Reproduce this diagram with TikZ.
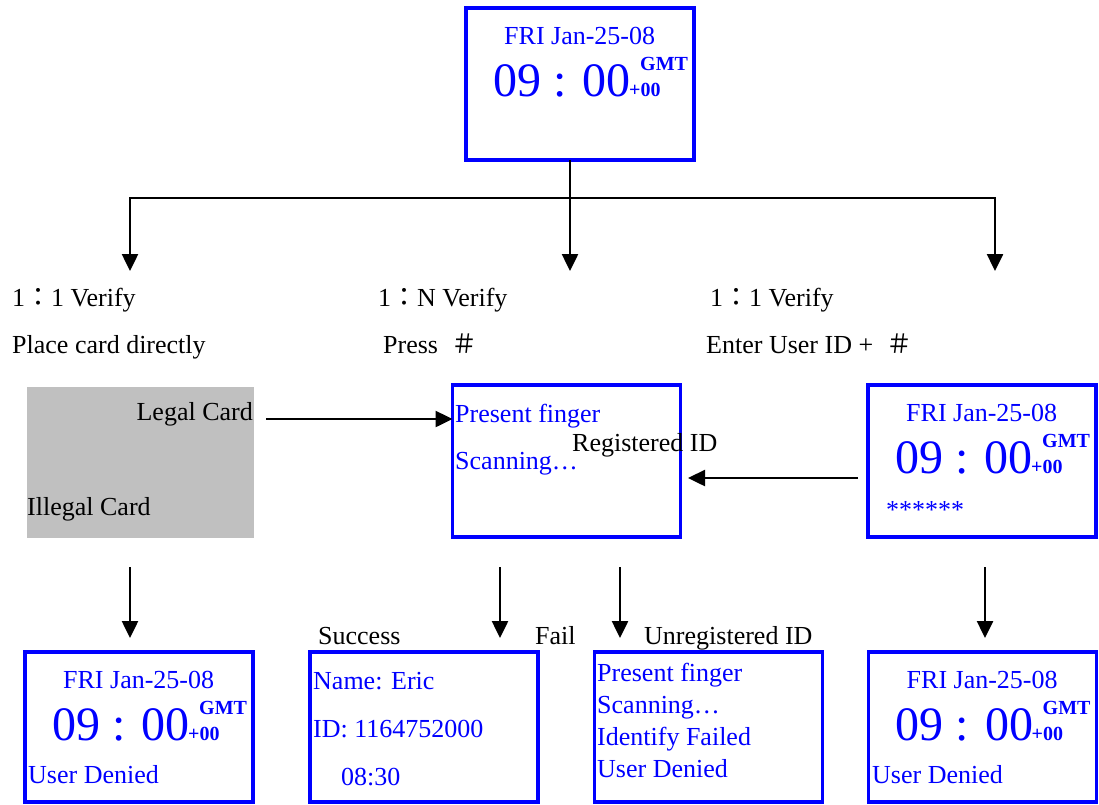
\documentclass[tikz,border=0pt]{standalone}
\usepackage{fontspec}
\setmainfont{Liberation Serif}
\newfontfamily\cjk{Noto Sans CJK TC}
\usetikzlibrary{arrows.meta,calc}
\definecolor{scrblue}{RGB}{0,0,255}
\definecolor{cardgray}{RGB}{192,192,192}
\newcommand\clockface[1]{%
  \node[clkdate] (#1-date) at ($(#1.north west)+(38,36)$) {FRI Jan-25-08};
  \node[clktime] (#1-time) at ($(#1.north west)+(27,88)$) {09 : 00};
  \node[clksmall] (#1-gmt) at ($(#1.north west)+(174,62)$) {GMT};
  \node[clksmall] (#1-zone) at ($(#1.north west)+(163,88)$) {+00};
}
\begin{document}
\begin{tikzpicture}[x=1pt,y=-1pt,
  screen/.style={draw=scrblue, line width=3.5pt, minimum width=228pt, minimum height=152pt, inner sep=0pt, outer sep=0pt},
  cardbox/.style={fill=cardgray, minimum width=227pt, minimum height=151pt, inner sep=0pt, outer sep=0pt},
  lbl/.style={font=\fontsize{26}{28}\selectfont, inner sep=0pt, anchor=base west, text=black},
  blbl/.style={lbl, text=scrblue},
  clkdate/.style={blbl},
  clktime/.style={font=\fontsize{48}{50}\selectfont, inner sep=0pt, anchor=base west, text=scrblue},
  clksmall/.style={font=\bfseries\fontsize{20}{22}\selectfont, inner sep=0pt, anchor=base west, text=scrblue},
  arr/.style={line width=2.5pt, -{Triangle[length=17pt,width=16pt]}},
  darr/.style={line width=2.5pt, {Triangle[length=17pt,width=16pt]}-{Triangle[length=17pt,width=16pt]}}
]
\useasboundingbox (0,0) rectangle (1099,804);

% boxes
\node[screen] (top) at (580,84) {};
\node[cardbox] (card) at (140.5,462) {};
\node[screen] (scan) at (566.5,461) {};
\node[screen] (idbox) at (982,461) {};
\node[screen, minimum height=150pt] (deny1) at (139,727) {};
\node[screen, minimum height=150pt] (succ) at (424,727) {};
\node[screen, minimum height=150pt] (fail) at (708.5,727) {};
\node[screen, minimum height=150pt] (deny2) at (982.5,727) {};

% clock faces
\clockface{top}
\clockface{idbox}
\clockface{deny1}
\clockface{deny2}

% labels
\node[lbl] (v1) at (12,306) {1{\cjk ：}1 Verify};
\node[lbl] (vn) at (378,306) {1{\cjk ：}N Verify};
\node[lbl] (v2) at (710,306) {1{\cjk ：}1 Verify};
\node[lbl] (p1) at (12,353) {Place card directly};
\node[lbl] (p2) at (383,353) {Press\ \ {\cjk ＃}};
\node[lbl] (p3) at (706,353) {Enter User ID +\ \ {\cjk ＃}};

\node[lbl, anchor=base east] (legal) at (253,420) {Legal Card};
\node[lbl] (illegal) at (27,515) {Illegal Card};

\node[blbl] (s1) at (455,422) {Present finger};
\node[blbl] (s2) at (455,469) {Scanning…};
\node[lbl] (reg) at (572,451) {Registered ID};

\node[blbl] (stars) at (886,518) {******};

\node[lbl] (sl) at (318,644) {Success};
\node[lbl] (fl) at (535,644) {Fail};
\node[lbl] (ul) at (644,644) {Unregistered ID};

\node[blbl] (d1) at (28,783) {User Denied};
\node[blbl] (d2) at (872,783) {User Denied};

\node[blbl] (n1) at (313,689) {Name: Eric};
\node[blbl] (n2) at (313,737) {ID: 1164752000};
\node[blbl] (n3) at (341,785) {08:30};

\node[blbl] (f1) at (597,681) {Present finger};
\node[blbl] (f2) at (597,713) {Scanning…};
\node[blbl] (f3) at (597,745) {Identify Failed};
\node[blbl] (f4) at (597,777) {User Denied};

% connectors
\coordinate (split) at (570,198);
\coordinate (hl) at (130,198);
\coordinate (hr) at (995,198);
\coordinate (t1) at (130,271);
\coordinate (t2) at (570,271);
\coordinate (t3) at (995,271);
\draw[darr] (t1) -- (hl) -- (hr) -- (t3);
\draw[arr] (top.south -| split) -- (t2);

\coordinate (lc) at (266,419);
\draw[arr] (lc) -- (scan.west |- lc);
\coordinate (rc) at (858,478);
\coordinate (rt) at (688,478);
\draw[arr] (rc) -- (rt);

\foreach \x/\n in {130/a,500/b,620/c,985/d}{
  \coordinate (ds\n) at (\x,567);
  \coordinate (de\n) at (\x,638);
  \draw[arr] (ds\n) -- (de\n);
}
\end{tikzpicture}
\end{document}
